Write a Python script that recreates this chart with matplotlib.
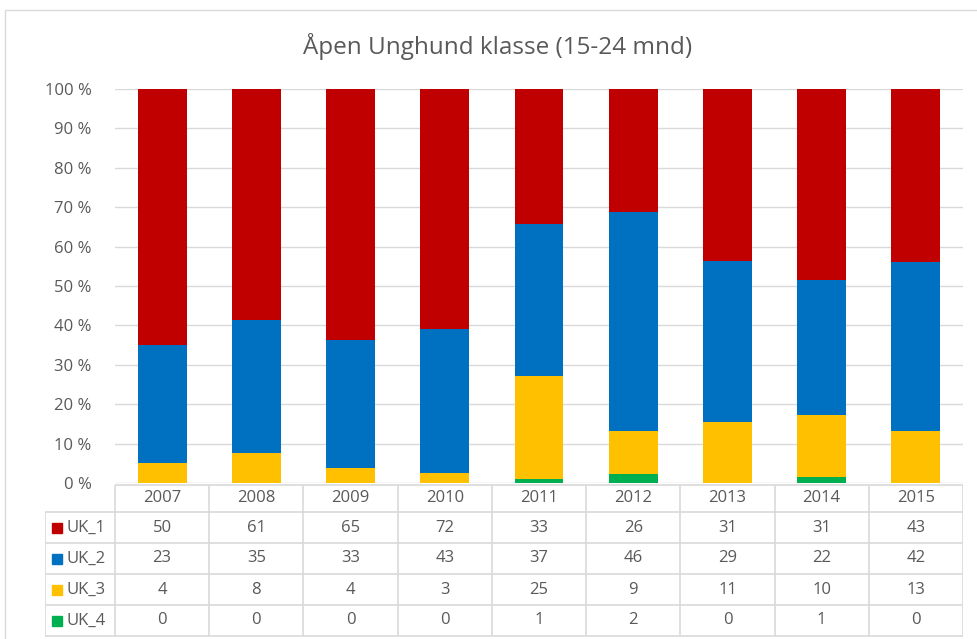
import numpy as np
import matplotlib.pyplot as plt
from matplotlib.patches import Rectangle

plt.rcParams['font.family'] = ['Open Sans', 'DejaVu Sans']

years = ['2007', '2008', '2009', '2010', '2011', '2012', '2013', '2014', '2015']
series = ['UK_1', 'UK_2', 'UK_3', 'UK_4']
uk1 = [50, 61, 65, 72, 33, 26, 31, 31, 43]
uk2 = [23, 35, 33, 43, 37, 46, 29, 22, 42]
uk3 = [4, 8, 4, 3, 25, 9, 11, 10, 13]
uk4 = [0, 0, 0, 0, 1, 2, 0, 1, 0]
colors = ['#C00000', '#0070C0', '#FFC000', '#00B050']

W, H = 978, 639
fig = plt.figure(figsize=(W / 100, H / 100), dpi=100)
txt = '#595959'
grid = '#d9d9d9'
fs = 12

# outer chart frame
fig.patches.append(Rectangle((5 / W, -0.01), 1.0, (H - 10) / H + 0.01, transform=fig.transFigure,
                             fill=False, edgecolor=grid, lw=1))

def px_axes(x0, y0, x1, y1):
    return fig.add_axes([x0 / W, 1 - y1 / H, (x1 - x0) / W, (y1 - y0) / H])

# main plot area
ax = px_axes(115, 89, 963, 483)
data = np.array([uk1, uk2, uk3, uk4], dtype=float)
pct = data / data.sum(axis=0) * 100
x = np.arange(len(years))
bottom = np.zeros(len(years))
# stacked from UK_4 at the bottom up to UK_1
for i in [3, 2, 1, 0]:
    ax.bar(x, pct[i], 0.52, bottom=bottom, color=colors[i], zorder=3)
    bottom += pct[i]
ax.set_xlim(-0.5, 8.5)
ax.set_ylim(0, 100)
ax.set_yticks(range(0, 101, 10))
ax.set_yticklabels([f'{v} %' for v in range(0, 101, 10)], color=txt, fontsize=fs)
ax.set_xticks([])
ax.tick_params(axis='y', length=0, pad=17)
ax.yaxis.grid(True, color=grid, lw=1, zorder=0)
for s in ax.spines.values():
    s.set_visible(False)

fig.text(498 / W, 1 - 47 / H, 'Åpen Unghund klasse (15-24 mnd)',
         ha='center', va='center', fontsize=17.5, color=txt)

# data table below
colw = (963 - 115) / 9
left = -0.5 - (115 - 45) / colw
tx = px_axes(45, 483, 963, 637)
tx.set_xlim(left, 8.5)
tx.set_ylim(154, 0)
tx.axis('off')
rows_y = [2, 29, 60, 91, 122, 153]
lk = dict(color=grid, lw=1.2, solid_capstyle='butt')
# horizontal lines
tx.plot([-0.5, 8.5], [rows_y[0], rows_y[0]], **lk)
for yy in rows_y[1:]:
    tx.plot([left, 8.5], [yy, yy], **lk)
# vertical lines
tx.plot([left, left], [rows_y[1], rows_y[-1]], **lk)
for k in range(10):
    tx.plot([k - 0.5, k - 0.5], [rows_y[0], rows_y[-1]], **lk)
for j, yr in enumerate(years):
    tx.text(j, (rows_y[0] + rows_y[1]) / 2, yr, ha='center', va='center', fontsize=fs, color=txt)
for i, name in enumerate(series):
    yc = (rows_y[i + 1] + rows_y[i + 2]) / 2
    kx = left + 7 / colw
    tx.add_patch(Rectangle((kx, yc - 5), 10 / colw, 10, color=colors[i], clip_on=False))
    tx.text(left + 22 / colw, yc, name, ha='left', va='center', fontsize=fs, color=txt)
    for j in range(len(years)):
        tx.text(j, yc, str(int(data[i, j])), ha='center', va='center', fontsize=fs, color=txt)

fig.savefig('out.png', dpi=100)
